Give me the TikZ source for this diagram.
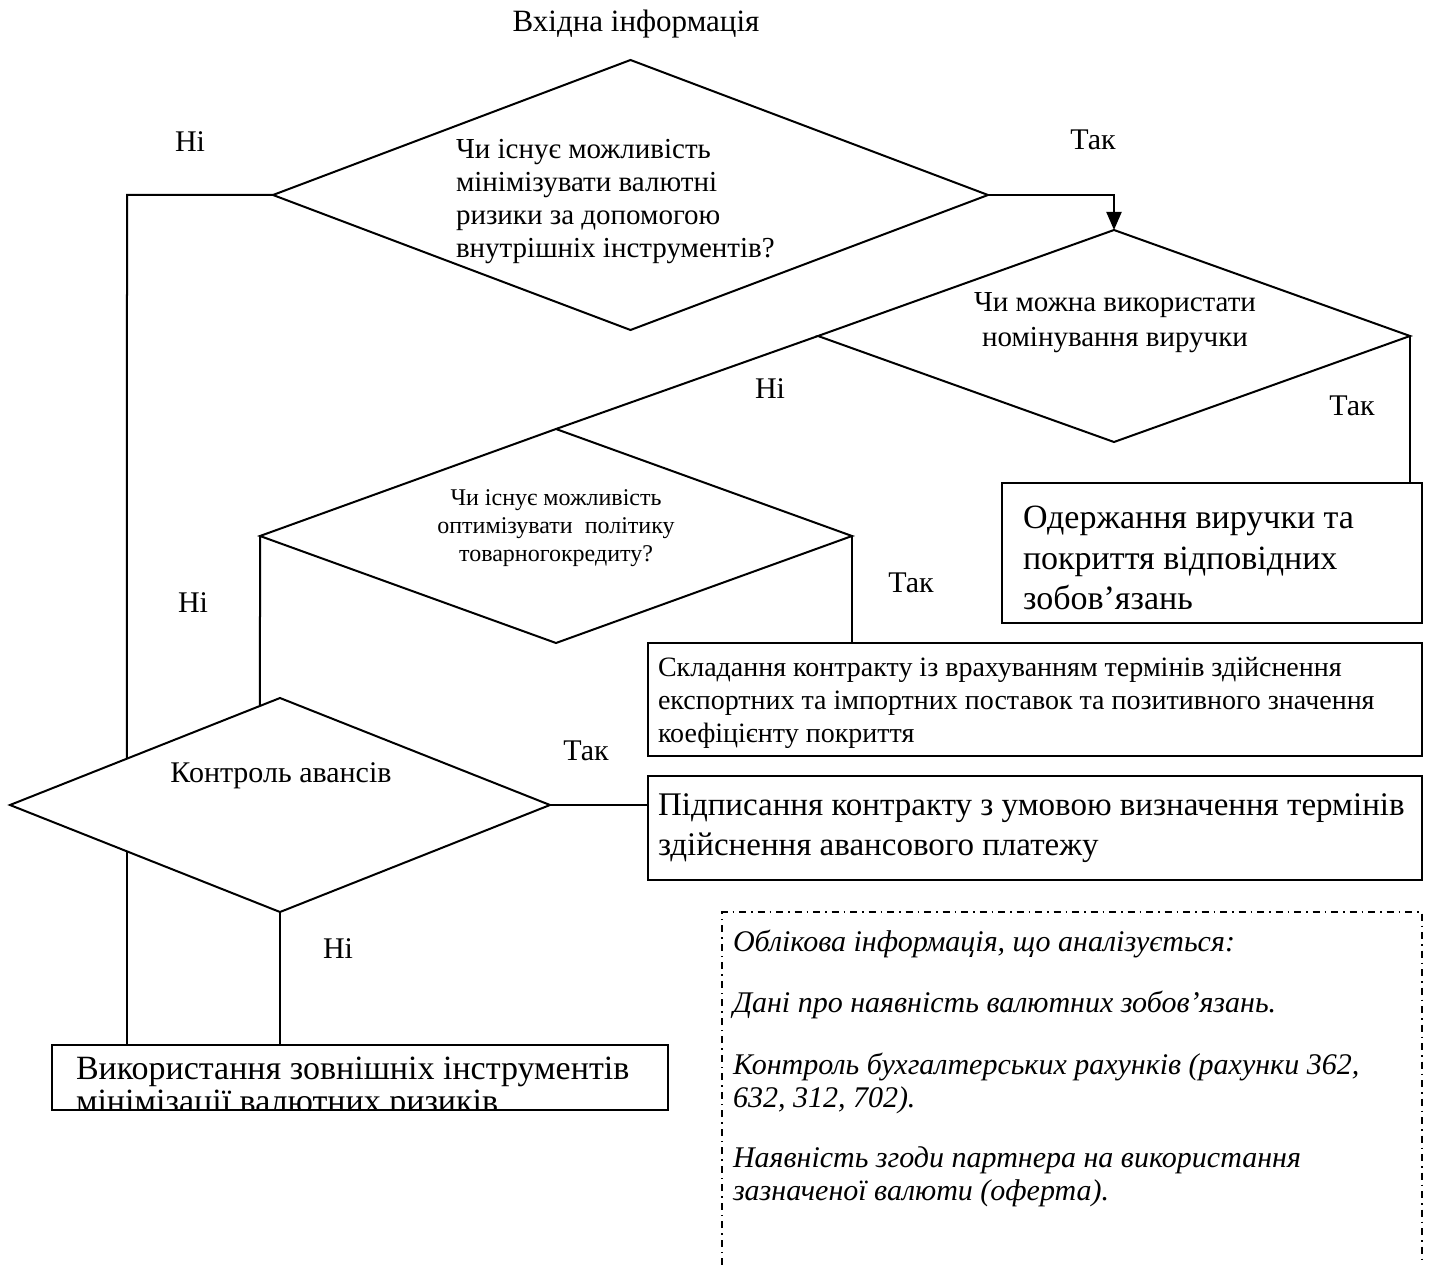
\documentclass[tikz,border=0pt]{standalone}
\usepackage{fontspec}
\setmainfont{Liberation Serif}
\usetikzlibrary{shapes.geometric,arrows.meta,calc}

\begin{document}
\begin{tikzpicture}[x=1pt,y=-1pt,
  line width=2pt,
  dia/.style={draw, diamond, inner sep=0pt, outer sep=0pt},
  blk/.style={draw, rectangle, inner sep=0pt, outer sep=0pt, anchor=north west},
  lbl/.style={anchor=base, inner sep=0pt, font=\fontsize{30}{34}\selectfont},
  txt/.style={inner sep=0pt},
  dashdot/.style={line width=1.3pt, dash pattern=on 7pt off 5pt on 1.5pt off 5pt},
  tip/.style={-{Triangle[length=18pt,width=15pt]}}
]
\useasboundingbox (0,0) rectangle (1430,1265);

% decision diamonds
\node[dia, minimum width=715pt, minimum height=270pt] (d1) at (630.5,195) {};
\node[dia, minimum width=592pt, minimum height=212pt] (d2) at (1114,336) {};
\node[dia, minimum width=592pt, minimum height=214pt] (d3) at (556,536) {};
\node[dia, minimum width=540pt, minimum height=214pt] (d4) at (280,805) {};

% process boxes
\node[blk, minimum width=420pt, minimum height=140pt] (b1) at (1002,483) {};
\node[blk, minimum width=774pt, minimum height=113pt] (b2) at (648,643) {};
\node[blk, minimum width=774pt, minimum height=104pt] (b3) at (648,776) {};
\node[blk, minimum width=616pt, minimum height=65pt]  (b4) at (52,1045) {};

% texts
\node[txt, anchor=base, font=\fontsize{31}{35}\selectfont] (title) at (636,32) {Вхідна інформація};
\node[txt, anchor=west, align=left, font=\fontsize{29}{33}\selectfont] (d1t) at (455,202)
  {Чи існує можливість\\мінімізувати валютні\\ризики за допомогою\\внутрішніх інструментів?};
\node[txt, align=center, font=\fontsize{29}{35}\selectfont] (d2t) at (1115,323)
  {Чи можна використати\\номінування виручки};
\node[txt, align=center, font=\fontsize{24}{28}\selectfont] (d3t) at (556,528)
  {Чи існує можливість\\оптимізувати\ \ політику\\товарногокредиту?};
\node[txt, anchor=base, font=\fontsize{30}{34}\selectfont] (d4t) at (281,782) {Контроль авансів};

\node[txt, anchor=west, align=left, font=\fontsize{34}{40.5}\selectfont] (b1t) at (1022,558)
  {Одержання виручки та\\покриття відповідних\\зобов’язань};
\node[txt, anchor=west, align=left, font=\fontsize{28}{33}\selectfont] (b2t) at (657,703)
  {Складання контракту із врахуванням термінів здійснення\\експортних та імпортних поставок та позитивного значення\\коефіцієнту покриття};
\node[txt, anchor=west, align=left, font=\fontsize{33}{40}\selectfont] (b3t) at (657,828)
  {Підписання контракту з умовою визначення термінів\\здійснення авансового платежу};
\begin{scope}
  \clip (b4.north west) rectangle (b4.south east);
  \node[txt, anchor=base west, font=\fontsize{34}{34}\selectfont] (b4t1) at (75,1079)
    {Використання зовнішніх інструментів};
  \node[txt, anchor=base west, font=\fontsize{34}{34}\selectfont] (b4t2) at (75,1112)
    {мінімізації валютних ризиків};
\end{scope}

% branch labels
\node[lbl] (n1) at (190,152) {Ні};
\node[lbl] (y1) at (1093,150) {Так};
\node[lbl] (n2) at (770,398) {Ні};
\node[lbl] (y2) at (1352,415) {Так};
\node[lbl] (n3) at (193,612) {Ні};
\node[lbl] (y3) at (911,592) {Так};
\node[lbl] (y4) at (586,760) {Так};
\node[lbl] (n4) at (338,958) {Ні};

% connectors
\coordinate (d4ul) at ($(d4.west)!0.4333!(d4.north)$);
\coordinate (d4ur) at ($(d4.west)!0.9259!(d4.north)$);
\coordinate (d4ll) at ($(d4.west)!0.4333!(d4.south)$);
\coordinate (d1turn) at (127,195);

\draw[tip] (d1.east) -| (d2.north);
\draw (d1.west) -- (d1turn) -- (d4ul);
\draw (d2.west) -- (d3.north);
\draw (d2.east) -- (d2.east |- b1.north);
\draw (d3.east) -- (d3.east |- b2.north);
\draw (d3.west) -- (d4ur);
\draw (d4.east) -- (d4.east -| b3.west);
\draw (d4.south) -- (d4.south |- b4.north);
\draw (d4ll) -- (d4ll |- b4.north);

% notes frame, open at the bottom
\coordinate (fbl) at (722,1265);
\coordinate (ftl) at (722,912);
\coordinate (ftr) at (1422,912);
\coordinate (fbr) at (1422,1265);
\draw[dashdot] (fbl) -- (ftl) -- (ftr) -- (fbr);
\node[txt, anchor=north west, align=left, font=\itshape\fontsize{30}{33}\selectfont] (notes) at (732,929)
  {Облікова інформація, що аналізується:\\[28pt]
   Дані про наявність валютних зобов’язань.\\[29pt]
   Контроль бухгалтерських рахунків (рахунки 362,\\
   632, 312, 702).\\[27pt]
   Наявність згоди партнера на використання\\
   зазначеної валюти (оферта).};
\end{tikzpicture}
\end{document}
